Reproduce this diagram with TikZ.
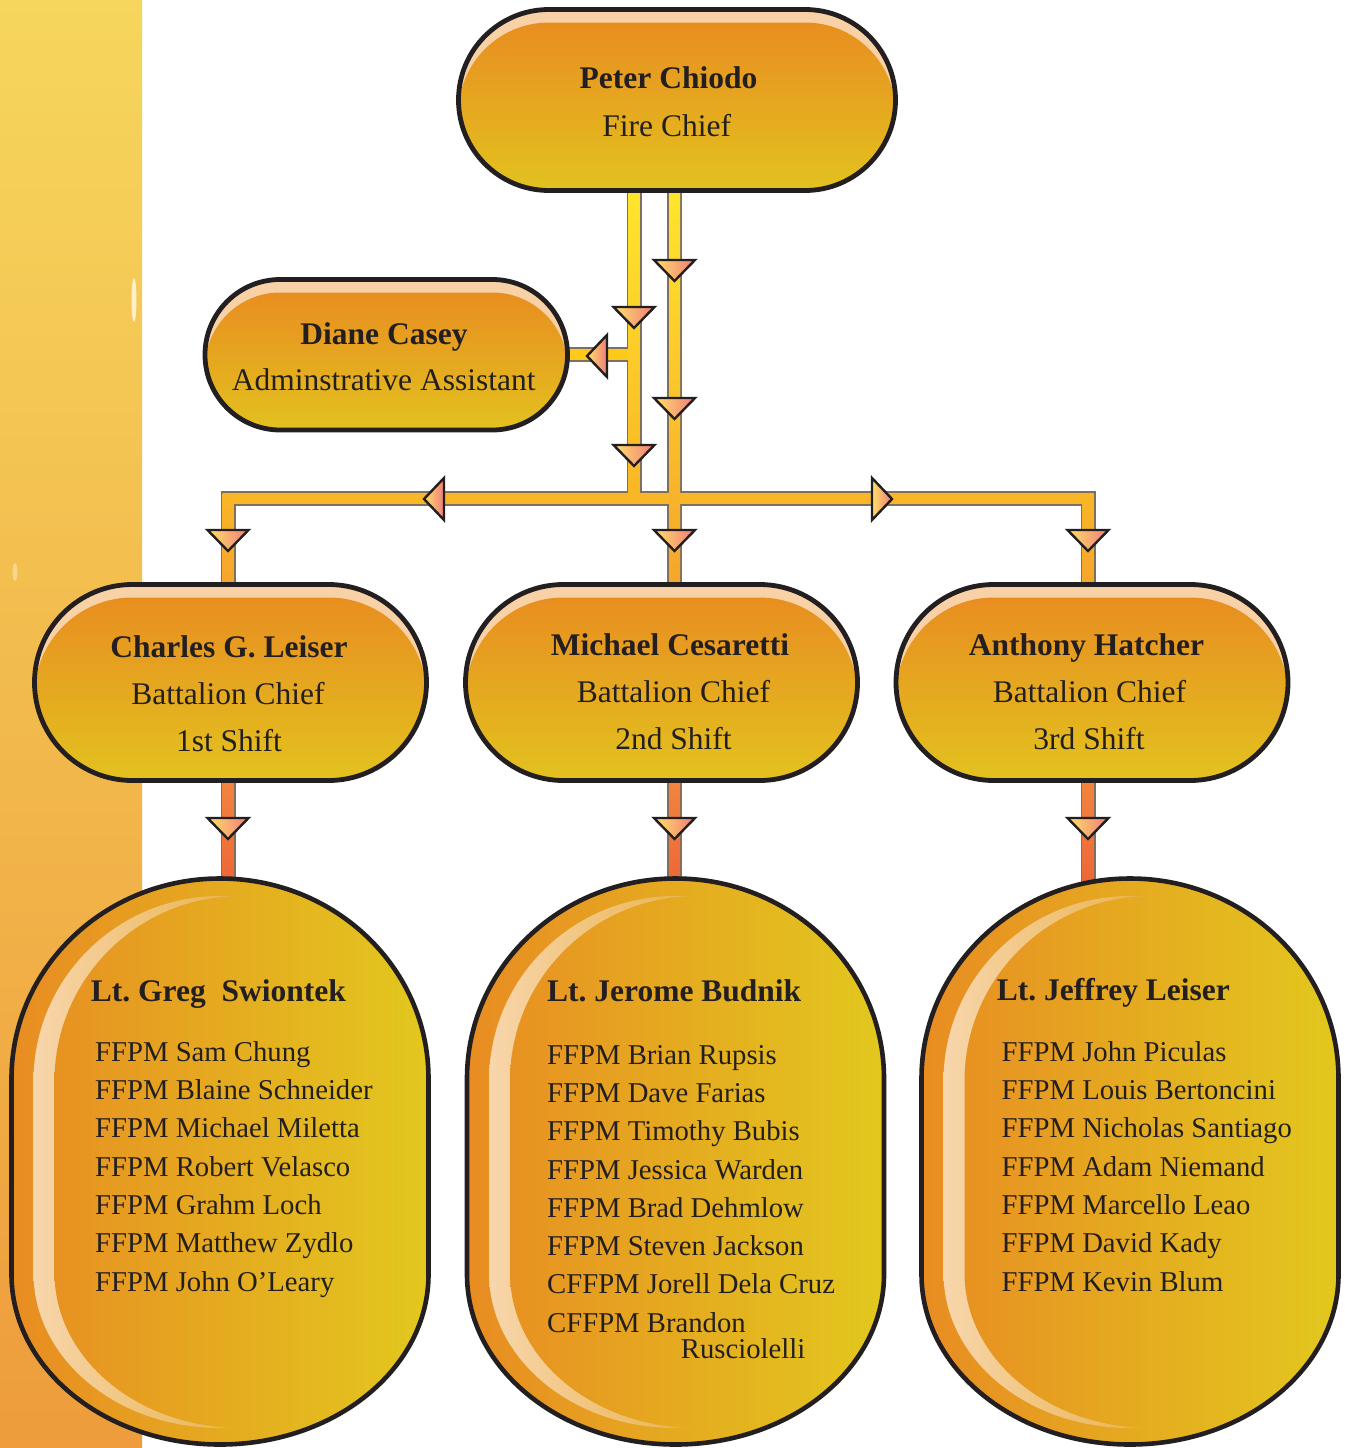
\documentclass[tikz,border=0pt]{standalone}
\usepackage{fontspec}
\setmainfont{Liberation Serif}
\usetikzlibrary{calc}
\pgfdeclarelayer{bg}
\pgfsetlayers{bg,main}
\frenchspacing
\definecolor{txt}{HTML}{231F20}
\definecolor{outl}{HTML}{231F20}
\definecolor{barline}{HTML}{7D705F}
\definecolor{nodetop}{HTML}{E88E20}
\definecolor{nodebot}{HTML}{E2C61F}
\definecolor{hilite}{HTML}{F8D2A6}
\definecolor{bigl}{HTML}{E88C22}
\definecolor{bigr}{HTML}{E2C81E}
\definecolor{bandl}{HTML}{F8D6AC}
\definecolor{bandr}{HTML}{E9B450}
\definecolor{baryel}{HTML}{FFE52C}
\definecolor{barbranch}{HTML}{FDC91A}
\definecolor{barmid}{HTML}{F9B626}
\definecolor{barorg}{HTML}{F6A52C}
\definecolor{redtop}{HTML}{F0853F}
\definecolor{redbot}{HTML}{EE6536}
\definecolor{arrY}{HTML}{FFE066}
\definecolor{arrP}{HTML}{F07C7C}
\definecolor{stripT}{HTML}{F6D65C}
\definecolor{stripM}{HTML}{F4C44E}
\definecolor{stripB}{HTML}{EE9C3C}
\newcommand\bigshape[1]{(#1-208.5,1078.5) arc[start angle=180,end angle=360,x radius=208.5,y radius=200] -- (#1+208.5,1274.5) arc[start angle=0,end angle=180,x radius=208.5,y radius=170] -- cycle}
\newcommand\bigband[1]{(#1-186.5,1081) arc[start angle=180,end angle=360,x radius=186.5,y radius=185] -- (#1+186.5,1273) arc[start angle=0,end angle=180,x radius=186.5,y radius=155] -- cycle}
\newcommand\drawbig[1]{%
  \begin{scope}
    \clip \bigshape{#1};
    \shade[left color=bigl,right color=bigr] (#1-208.5,870) rectangle (#1+208.5,1450);
    \begin{scope}
      \clip \bigband{#1};
      \shade[left color=bandl,right color=bandr] (#1-186.5,880) rectangle (#1+14,1440);
      \clip \bigband{#1+21};
      \shade[left color=bigl,right color=bigr] (#1-208.5,870) rectangle (#1+208.5,1450);
    \end{scope}
  \end{scope}
  \draw[draw=outl,line width=4.6pt] \bigshape{#1};}
\newcommand\arrD[2]{\draw[arrowst] (#1-20.5,#2) -- (#1+20.5,#2) -- (#1,#2+21) -- cycle;}
\newcommand\arrL[2]{\draw[arrowst] (#1,#2-21) -- (#1,#2+21) -- (#1-20,#2) -- cycle;}
\newcommand\arrR[2]{\draw[arrowst] (#1,#2-21) -- (#1,#2+21) -- (#1+20,#2) -- cycle;}
\tikzset{
  stad/.style={rectangle, rounded corners=#1, draw=outl, line width=4.8pt, inner sep=0pt, outer sep=0pt,
    path picture={
      \fill[hilite] ([xshift=-5pt,yshift=5pt]path picture bounding box.north west) rectangle ([xshift=5pt,yshift=-5pt]path picture bounding box.south east);
      \shade[top color=nodetop, bottom color=nodebot, rounded corners=#1]
        ([yshift=-13pt]path picture bounding box.north west) rectangle ([yshift=-13pt]path picture bounding box.south east);
    }},
  barout/.style={line width=15pt, draw=barline, line join=miter},
  arrowst/.style={draw=outl, line width=2.4pt, line join=miter, left color=arrY, right color=arrP},
  ttl/.style={font=\fontsize{31.5}{36}\selectfont\bfseries, text=txt, inner sep=0pt, anchor=base},
  sub/.style={font=\fontsize{31.5}{36}\selectfont, text=txt, inner sep=0pt, anchor=base},
  lttl/.style={ttl, anchor=base west},
  lst/.style={font=\fontsize{28.7}{34}\selectfont, text=txt, inner sep=0pt, anchor=base west},
  ghost/.style={rectangle, inner sep=0pt, outer sep=0pt, minimum width=417pt, minimum height=566pt}
}
\begin{document}
\begin{tikzpicture}[x=1pt,y=-1pt]
\useasboundingbox (0,0) rectangle (1344,1448);
% ---------- nodes ----------
\node[stad=90.5pt, minimum width=437pt, minimum height=181pt] (peter) at (677,100) {};
\node[stad=75.25pt, minimum width=362.5pt, minimum height=150.5pt] (diane) at (386.25,354.75) {};
\node[stad=98pt, minimum width=392pt, minimum height=196pt] (charles) at (230.5,682.5) {};
\node[stad=98pt, minimum width=392pt, minimum height=196pt] (michael) at (661.5,682.5) {};
\node[stad=98pt, minimum width=392pt, minimum height=196pt] (anthony) at (1092,682.5) {};
\node[ghost] (greg) at (220,1161.5) {};
\node[ghost] (jerome) at (675.5,1161.5) {};
\node[ghost] (jeff) at (1130,1161.5) {};
\drawbig{220}
\drawbig{675.5}
\drawbig{1130}
% ---------- texts ----------
\node[ttl] (peterA) at (668.5,88.3) {Peter Chiodo};
\node[sub] (peterB) at (666.7,136.7) {Fire Chief};
\node[ttl] (dianeA) at (384,344) {Diane Casey};
\node[sub] (dianeB) at (383.7,390.7) {Adminstrative Assistant};
\node[ttl] (charlesA) at (229,657.3) {Charles G. Leiser};
\node[sub] (charlesB) at (228,704.3) {Battalion Chief};
\node[sub] (charlesC) at (229,751.7) {1st Shift};
\node[ttl] (michaelA) at (670,655.3) {Michael Cesaretti};
\node[sub] (michaelB) at (673.5,702.3) {Battalion Chief};
\node[sub] (michaelC) at (673.5,749.7) {2nd Shift};
\node[ttl] (anthonyA) at (1086.5,655.3) {Anthony Hatcher};
\node[sub] (anthonyB) at (1089.5,702.3) {Battalion Chief};
\node[sub] (anthonyC) at (1089,749.7) {3rd Shift};
\node[lttl] (gregT) at (90.7,1001) {Lt. Greg~~Swiontek};
\foreach \t [count=\i] in {FFPM Sam Chung, FFPM Blaine Schneider, FFPM Michael Miletta, FFPM Robert Velasco, FFPM Grahm Loch, FFPM Matthew Zydlo, FFPM John O’Leary}
  \node[lst] (gregL\i) at (95,{1061+38.35*(\i-1)}) {\t};
\node[lttl] (jeromeT) at (547,1001) {Lt. Jerome Budnik};
\foreach \t [count=\i] in {FFPM Brian Rupsis, FFPM Dave Farias, FFPM Timothy Bubis, FFPM Jessica Warden, FFPM Brad Dehmlow, FFPM Steven Jackson, CFFPM Jorell Dela Cruz, CFFPM Brandon}
  \node[lst] (jeromeL\i) at (547,{1064+38.33*(\i-1)}) {\t};
\node[lst] (jeromeL9) at (680.7,1358.3) {Rusciolelli};
\node[lttl] (jeffT) at (996.7,1000) {Lt. Jeffrey Leiser};
\foreach \t [count=\i] in {FFPM John Piculas, FFPM Louis Bertoncini, FFPM Nicholas Santiago, FFPM Adam Niemand, FFPM Marcello Leao, FFPM David Kady, FFPM Kevin Blum}
  \node[lst] (jeffL\i) at (1001.5,{1061+38.35*(\i-1)}) {\t};
% ---------- background + connectors ----------
\coordinate (pl) at (634,0);
\coordinate (pr) at (674.5,0);
\coordinate (cbx) at (228,0);
\coordinate (abx) at (1088,0);
\coordinate (hy) at (650,498.5);
\begin{pgfonlayer}{bg}
  \fill[white] (0,0) rectangle (1344,1448);
  \shade[top color=stripT, middle color=stripM, bottom color=stripB] (0,0) rectangle (142,1448);
  \fill[white,opacity=0.7] (134,300) ellipse (2.5 and 22);
  \fill[white,opacity=0.35] (15,572) ellipse (2.5 and 9);
  % outlines
  \draw[barout] (peter.south -| pl) -- (hy -| pl);
  \draw[barout] (diane.center) -- (diane.center -| pl);
  \draw[barout] (charles.center -| cbx) |- (hy) -| (anthony.center -| abx);
  \draw[barout] (peter.south -| pr) -- (michael.center -| pr);
  \draw[barout] (charles.center -| cbx) -- (greg.center -| cbx);
  \draw[barout] (michael.center -| pr) -- (jerome.center -| pr);
  \draw[barout] (anthony.center -| abx) -- (jeff.center -| abx);
  % fills
  \draw[line width=11pt, barbranch] (diane.center) -- (diane.center -| pl);
  \draw[line width=11pt, barmid] (hy -| cbx) -- (hy -| abx);
  \shade[top color=baryel, bottom color=barmid] ($(peter.south -| pl)+(-5.5,0)$) rectangle ($(hy -| pl)+(5.5,0)$);
  \shade[top color=baryel, bottom color=barorg] ($(peter.south -| pr)+(-5.5,0)$) rectangle ($(michael.north -| pr)+(5.5,0)$);
  \shade[top color=barmid, bottom color=barorg] ($(hy -| cbx)+(-5.5,-5.5)$) rectangle ($(charles.north -| cbx)+(5.5,0)$);
  \shade[top color=barmid, bottom color=barorg] ($(hy -| abx)+(-5.5,-5.5)$) rectangle ($(anthony.north -| abx)+(5.5,0)$);
  \shade[top color=redtop, bottom color=redbot] ($(charles.south -| cbx)+(-5.5,0)$) rectangle ($(greg.north -| cbx)+(5.5,10)$);
  \shade[top color=redtop, bottom color=redbot] ($(michael.south -| pr)+(-5.5,0)$) rectangle ($(jerome.north -| pr)+(5.5,10)$);
  \shade[top color=redtop, bottom color=redbot] ($(anthony.south -| abx)+(-5.5,0)$) rectangle ($(jeff.north -| abx)+(5.5,10)$);
\end{pgfonlayer}
% ---------- arrowheads ----------
\arrD{634}{307}
\arrD{634}{445}
\arrD{674.5}{260}
\arrD{674.5}{398}
\arrD{674.5}{530}
\arrD{228}{530}
\arrD{1088}{530}
\arrD{228}{818}
\arrD{674.5}{818}
\arrD{1088}{818}
\arrL{607}{356}
\arrL{444}{499}
\arrR{872}{499}
\end{tikzpicture}
\end{document}
